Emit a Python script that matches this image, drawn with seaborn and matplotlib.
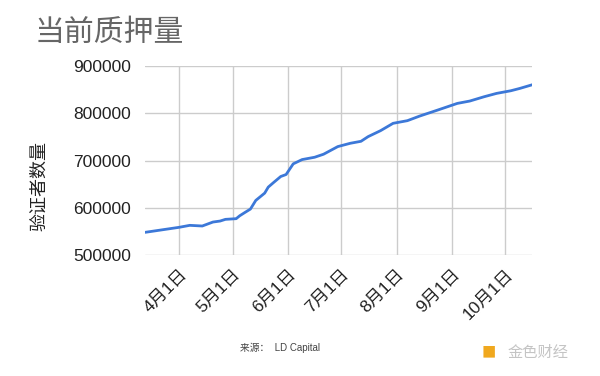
import matplotlib.pyplot as plt
import matplotlib.dates as mdates
import pandas as pd
import seaborn as sns

# data (2023)
dates = ['2023-03-13', '2023-04-01', '2023-04-07', '2023-04-14', '2023-04-20', '2023-04-24',
         '2023-04-27', '2023-05-03', '2023-05-05', '2023-05-08', '2023-05-11', '2023-05-14',
         '2023-05-19', '2023-05-21', '2023-05-24', '2023-05-28', '2023-05-31', '2023-06-04',
         '2023-06-09', '2023-06-16', '2023-06-21', '2023-06-29', '2023-07-06', '2023-07-12',
         '2023-07-16', '2023-07-23', '2023-07-30', '2023-08-07', '2023-08-14', '2023-08-24',
         '2023-09-04', '2023-09-11', '2023-09-19', '2023-09-26', '2023-10-04', '2023-10-09',
         '2023-10-16']
validators = [547900, 558500, 562700, 561300, 569700, 571800,
              575400, 576800, 583000, 590200, 597200, 615500,
              631000, 643700, 653500, 666200, 670400, 693000,
              702100, 707000, 713400, 729600, 736600, 740800,
              750700, 763400, 778900, 784500, 794400, 807000,
              821100, 826100, 835200, 842300, 847900, 852800,
              860600]
month_ticks = ['2023-04-01', '2023-05-01', '2023-06-01', '2023-07-01',
               '2023-08-01', '2023-09-01', '2023-10-01']
month_labels = ['4月1日', '5月1日', '6月1日', '7月1日', '8月1日', '9月1日', '10月1日']
y_ticks = [500000, 600000, 700000, 800000, 900000]

df = pd.DataFrame({'date': pd.to_datetime(dates), 'validators': validators})

sns.set_style("white")
plt.rcParams['font.family'] = ['Liberation Sans', 'Noto Sans CJK SC', 'DejaVu Sans']

fig = plt.figure(figsize=(6, 3.76), dpi=100)
ax = fig.add_axes([0.242, 0.322, 0.645, 0.502])

sns.lineplot(data=df, x='date', y='validators', ax=ax, color='#3c78d8', linewidth=2)

ax.set_xlim(pd.Timestamp('2023-03-13'), pd.Timestamp('2023-10-16'))
ax.set_ylim(500000, 900000)
ax.set_yticks(y_ticks)
ax.set_yticklabels([str(v) for v in y_ticks])
ax.set_xticks(pd.to_datetime(month_ticks))
ax.set_xticklabels(month_labels, rotation=45, ha='right', rotation_mode='anchor')
ax.grid(True, color='#cccccc', linewidth=1)
ax.tick_params(axis='both', length=0, labelsize=12.5, colors='#222222')
ax.tick_params(axis='y', pad=10)
ax.tick_params(axis='x', pad=8)
for s in ax.spines.values():
    s.set_visible(False)

ax.set_xlabel('')
ax.set_ylabel('验证者数量', fontsize=13, color='#222222')
ax.yaxis.set_label_coords(-0.25, 0.365)

fig.text(0.057, 0.912, '当前质押量', fontsize=21.5, color='#666666', va='center', ha='left')
fig.text(0.40, 0.074, '来源：  LD Capital', fontsize=7, color='#444444', va='center', ha='left')
fig.text(0.802, 0.062, '■', fontsize=17, color='#f0a81e', va='center', ha='left')
fig.text(0.846, 0.062, '金色财经', fontsize=11, color='#c4c4c4', va='center', ha='left')

fig.savefig('out.png', dpi=100)
